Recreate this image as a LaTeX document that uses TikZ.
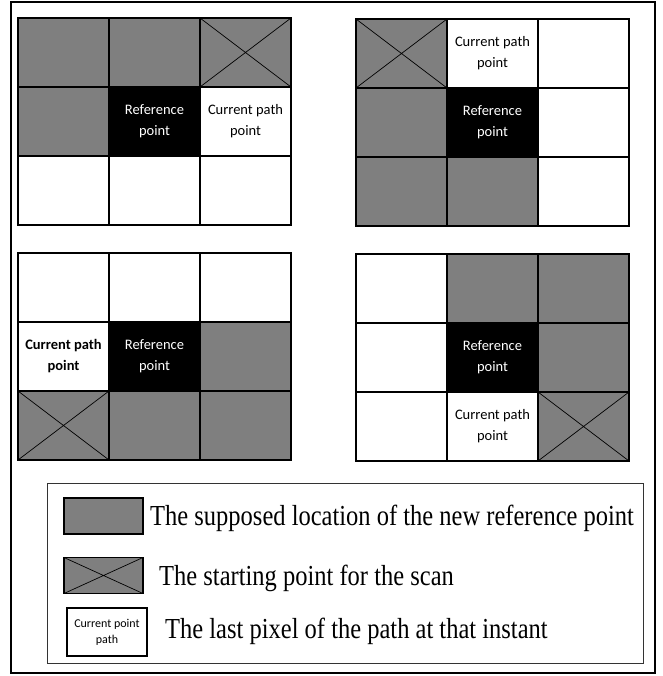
\documentclass[tikz,border=0pt]{standalone}
\usepackage{fontspec}
\setmainfont{Liberation Serif}
\newfontfamily\cellfont{Carlito}
\definecolor{cellgray}{HTML}{7F7F7F}
\newcommand\gcell[5]{\node[cell,#4] (#1) at (#2,#3) {#5};}
\begin{document}
\begin{tikzpicture}[x=1pt,y=-1pt,
  cell/.style={draw=black,line width=1.5pt,anchor=north west,outer sep=0pt,inner sep=0pt,
     minimum width=91pt,minimum height=69pt,align=center,
     font=\cellfont\fontsize{14.5}{21}\selectfont},
  gr/.style={fill=cellgray},
  bk/.style={fill=black,text=white},
  wh/.style={fill=white},
  crossline/.style={line width=0.7pt},
  legbox/.style={draw=black,line width=1.2pt,outer sep=0pt,inner sep=0pt,minimum width=79pt,minimum height=36pt},
  legtext/.style={anchor=base west,inner sep=0pt,font=\fontsize{29}{29}\selectfont}]
\useasboundingbox (0,0) rectangle (662,676);
\fill[white] (0,0) rectangle (662,676);
% outer frame
\draw[line width=1.3pt] (11,2) rectangle (655,673);

% top-left grid
\gcell{a11}{18}{18}{gr}{}
\gcell{a12}{109}{18}{gr}{}
\gcell{a13}{200}{18}{gr}{}
\gcell{a21}{18}{87}{gr}{}
\gcell{a22}{109}{87}{bk}{Reference\\point}
\gcell{a23}{200}{87}{wh}{Current path\\point}
\gcell{a31}{18}{156}{wh}{}
\gcell{a32}{109}{156}{wh}{}
\gcell{a33}{200}{156}{wh}{}
\draw[crossline] (a13.north west) -- (a13.south east) (a13.north east) -- (a13.south west);

% top-right grid
\gcell{b11}{356}{19}{gr}{}
\gcell{b12}{447}{19}{wh}{Current path\\point}
\gcell{b13}{538}{19}{wh}{}
\gcell{b21}{356}{88}{gr}{}
\gcell{b22}{447}{88}{bk}{Reference\\point}
\gcell{b23}{538}{88}{wh}{}
\gcell{b31}{356}{157}{gr}{}
\gcell{b32}{447}{157}{gr}{}
\gcell{b33}{538}{157}{wh}{}
\draw[crossline] (b11.north west) -- (b11.south east) (b11.north east) -- (b11.south west);

% bottom-left grid
\gcell{c11}{18}{253}{wh}{}
\gcell{c12}{109}{253}{wh}{}
\gcell{c13}{200}{253}{wh}{}
\gcell{c21}{18}{322}{wh}{\bfseries Current path\\\bfseries point}
\gcell{c22}{109}{322}{bk}{Reference\\point}
\gcell{c23}{200}{322}{gr}{}
\gcell{c31}{18}{391}{gr}{}
\gcell{c32}{109}{391}{gr}{}
\gcell{c33}{200}{391}{gr}{}
\draw[crossline] (c31.north west) -- (c31.south east) (c31.north east) -- (c31.south west);

% bottom-right grid
\gcell{d11}{356}{254}{wh}{}
\gcell{d12}{447}{254}{gr}{}
\gcell{d13}{538}{254}{gr}{}
\gcell{d21}{356}{323}{wh}{}
\gcell{d22}{447}{323}{bk}{Reference\\point}
\gcell{d23}{538}{323}{gr}{}
\gcell{d31}{356}{392}{wh}{}
\gcell{d32}{447}{392}{wh}{Current path\\point}
\gcell{d33}{538}{392}{gr}{}
\draw[crossline] (d33.north west) -- (d33.south east) (d33.north east) -- (d33.south west);

% legend
\draw[line width=0.9pt,draw=black!80] (47,483) rectangle (643,663);
\node[legbox,fill=cellgray] (l1) at (103.5,516) {};
\node[legbox,fill=cellgray] (l2) at (103.5,575.5) {};
\draw[crossline] (l2.north west) -- (l2.south east) (l2.north east) -- (l2.south west);
\node[legbox,fill=white,minimum width=80pt,minimum height=48pt,align=center,
      font=\cellfont\fontsize{12}{16}\selectfont] (l3) at (107,632) {Current point\\path};
\node[legtext] (t1) at (150,525) {\scalebox{0.845}[1]{The supposed location of the new reference point}};
\node[legtext] (t2) at (159,585) {\scalebox{0.845}[1]{The starting point for the scan}};
\node[legtext] (t3) at (165,638) {\scalebox{0.845}[1]{The last pixel of the path at that instant}};
\end{tikzpicture}
\end{document}
